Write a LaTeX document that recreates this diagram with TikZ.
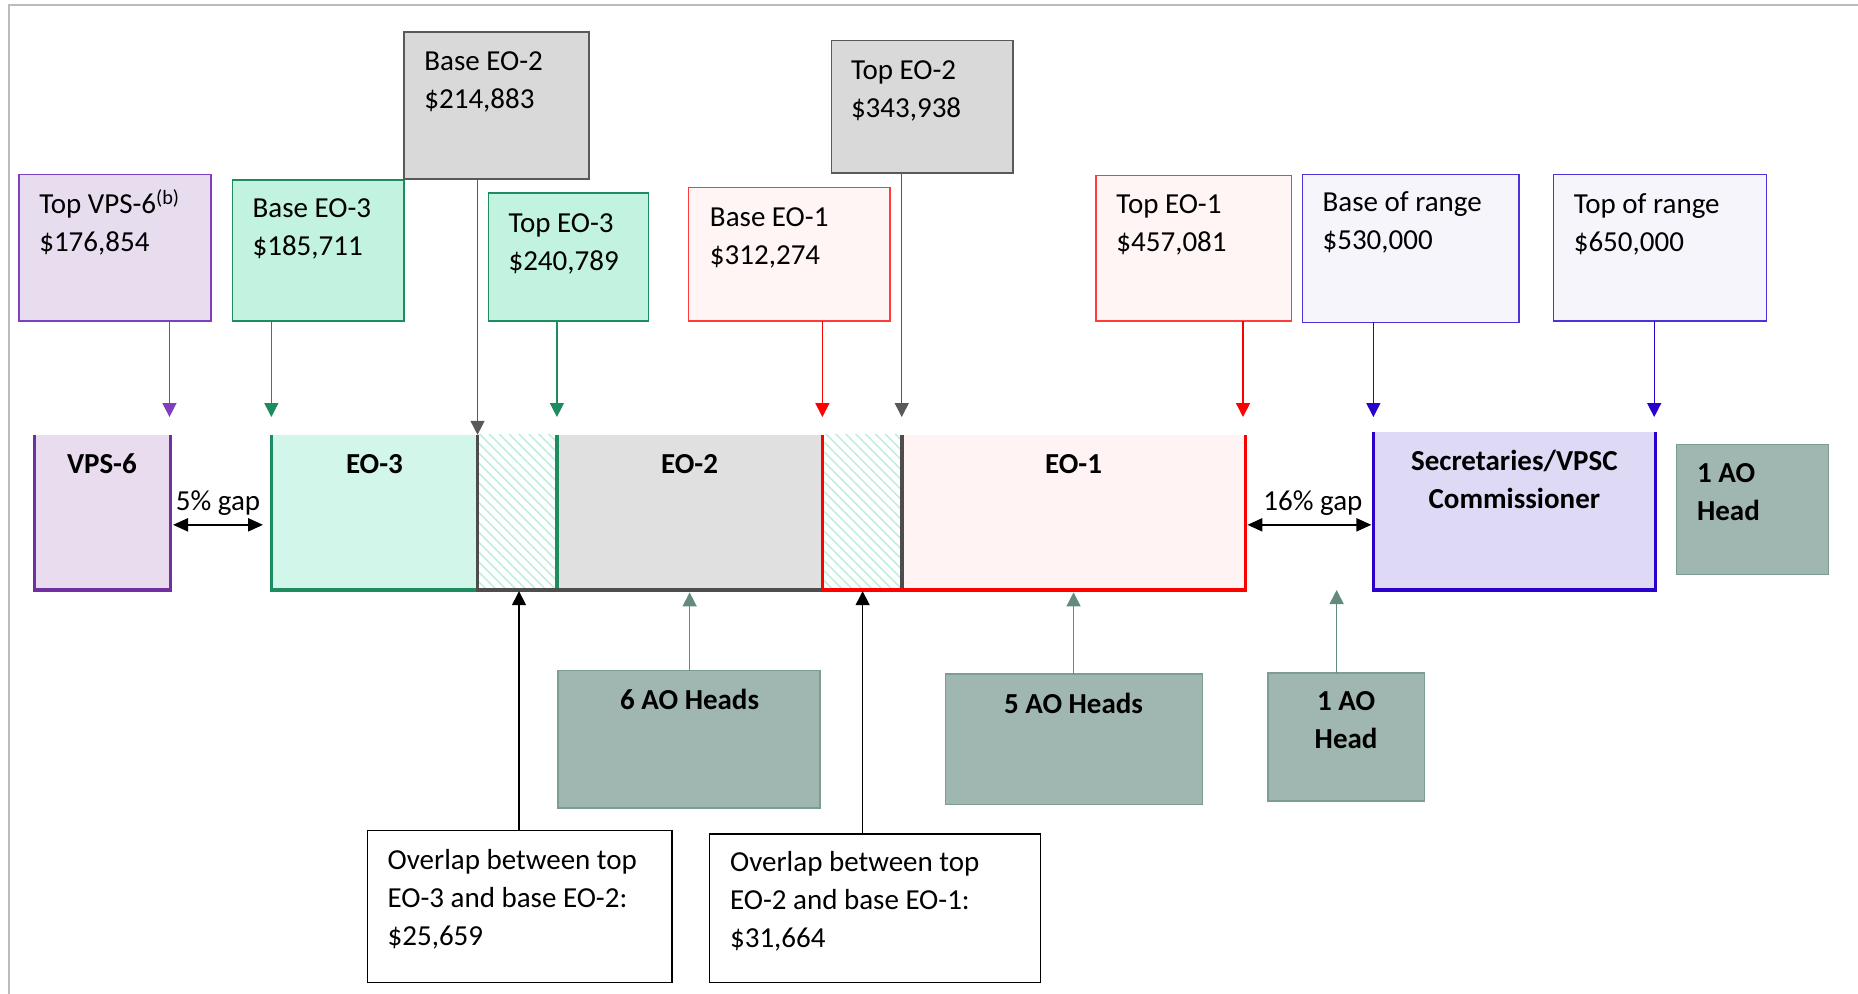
\documentclass[tikz,border=0pt]{standalone}
\usepackage{fontspec}
\setmainfont{Carlito}
\usetikzlibrary{arrows.meta,patterns.meta}

\definecolor{frameline}{HTML}{BBBBBB}
\definecolor{vpsLine}{HTML}{7F3FBF}
\definecolor{vpsFill}{HTML}{E8DCEF}
\definecolor{vpsEdge}{HTML}{7030A0}
\definecolor{vpsBarFill}{HTML}{E9DCEE}
\definecolor{eoThreeLine}{HTML}{1E8C5E}
\definecolor{eoThreeFill}{HTML}{C2F2E0}
\definecolor{eoThreeBarFill}{HTML}{D3F6EA}
\definecolor{eoTwoLine}{HTML}{595959}
\definecolor{eoTwoFill}{HTML}{D9D9D9}
\definecolor{eoTwoBarFill}{HTML}{E0E0E0}
\definecolor{eoTwoEdge}{HTML}{4D4D4D}
\definecolor{eoOneLine}{HTML}{FF3B3B}
\definecolor{eoOneFill}{HTML}{FFF5F5}
\definecolor{eoOneBarFill}{HTML}{FFF4F3}
\definecolor{eoOneEdge}{HTML}{FF0000}
\definecolor{rangeLine}{HTML}{4B33D9}
\definecolor{rangeFill}{HTML}{F6F5FC}
\definecolor{secBarFill}{HTML}{DEDAF6}
\definecolor{secEdge}{HTML}{2A00CC}
\definecolor{aoFill}{HTML}{9FB7B0}
\definecolor{aoLine}{HTML}{7D9C93}
\definecolor{aoArrow}{HTML}{648A80}
\definecolor{hatchLine}{HTML}{BFEEDC}

% a box given by its corners (x1,y1) and (x2,y2)
\newcommand\placebox[6]{%
  \node[#6, minimum width={(#4-#2)*1.18495pt}, minimum height={(#5-#3)*1.18474pt},
        anchor=north west, inner sep=0pt, outer sep=0pt] (#1) at (#2,#3) {};}

% multi-line text is anchored at the baseline of its last line
\tikzset{
  valbox/.style={draw, line width=1.3pt},
  aobox/.style={draw=aoLine, fill=aoFill, line width=1.3pt},
  notebox/.style={draw=black, fill=white, line width=1.3pt},
  hatched/.style={pattern={Lines[angle=-45,distance=7pt,line width=1.6pt]}, pattern color=hatchLine},
  valtext/.style={align=left, anchor=base west, inner sep=0pt},
  bartext/.style={font=\fontsize{29}{38}\selectfont\bfseries, align=center, anchor=base, inner sep=0pt},
  sidetext/.style={font=\fontsize{29}{38}\selectfont\bfseries, align=left, anchor=base west, inner sep=0pt},
  gaptext/.style={anchor=base, inner sep=0pt},
  pointer/.style={line width=1.4pt, -{Triangle[length=14pt,width=14pt]}},
  bandedge/.style={line width=3.6pt, line join=miter},
  gaparrow/.style={line width=2.2pt, {Triangle[length=15pt,width=13pt]}-{Triangle[length=15pt,width=13pt]}},
}

\begin{document}
\begin{tikzpicture}[x=1.18495pt, y=-1.18474pt, font=\fontsize{29}{38}\selectfont]
\useasboundingbox (0,0) rectangle (1568,839);

% outer frame (top and left sides only)
\draw[frameline, line width=1.8pt] (7.3,839) -- (7.3,4.5) -- (1568,4.5);

% ---- value boxes along the top ----
\placebox{vpsTop}{16}{147}{178}{271}{valbox, draw=vpsLine, fill=vpsFill}
\placebox{eoThreeBase}{196}{152}{341}{271}{valbox, draw=eoThreeLine, fill=eoThreeFill}
\placebox{eoTwoBase}{341}{27}{497}{151}{valbox, draw=eoTwoLine, fill=eoTwoFill}
\placebox{eoThreeTop}{412}{163}{547}{271}{valbox, draw=eoThreeLine, fill=eoThreeFill}
\placebox{eoOneBase}{581}{158}{751}{271}{valbox, draw=eoOneLine, fill=eoOneFill}
\placebox{eoTwoTop}{702}{34}{855}{146}{valbox, draw=eoTwoLine, fill=eoTwoFill}
\placebox{eoOneTop}{925}{148}{1090}{271}{valbox, draw=eoOneLine, fill=eoOneFill}
\placebox{rangeBase}{1099}{147}{1282}{272}{valbox, draw=rangeLine, fill=rangeFill}
\placebox{rangeTop}{1311}{147}{1491}{271}{valbox, draw=rangeLine, fill=rangeFill}

\node[valtext] (vpsTopText) at (33,212) {Top VPS-6\textsuperscript{(b)}\\\$176,854};
\node[valtext] (eoThreeBaseText) at (213,216) {Base EO-3\\\$185,711};
\node[valtext] (eoTwoBaseText) at (358,92) {Base EO-2\\\$214,883};
\node[valtext] (eoThreeTopText) at (429,228) {Top EO-3\\\$240,789};
\node[valtext] (eoOneBaseText) at (599,223) {Base EO-1\\\$312,274};
\node[valtext] (eoTwoTopText) at (718,99) {Top EO-2\\\$343,938};
\node[valtext] (eoOneTopText) at (942,212) {Top EO-1\\\$457,081};
\node[valtext] (rangeBaseText) at (1116,211) {Base of range\\\$530,000};
\node[valtext] (rangeTopText) at (1328,212) {Top of range\\\$650,000};

% ---- salary bands ----
\placebox{vpsBand}{29}{367}{144}{498}{fill=vpsBarFill}
\placebox{eoThreeBand}{229}{367}{403}{498}{fill=eoThreeBarFill}
\placebox{overlapOne}{403}{367}{470}{498}{hatched}
\placebox{eoTwoBand}{470}{367}{694}{498}{fill=eoTwoBarFill}
\placebox{overlapTwo}{694}{367}{761}{498}{hatched}
\placebox{eoOneBand}{761}{367}{1051}{498}{fill=eoOneBarFill}
\placebox{secBand}{1159}{365}{1397}{498}{fill=secBarFill}

% band outlines, open at the top
\draw[bandedge, vpsEdge] (vpsBand.north west) -- (vpsBand.south west) -- (vpsBand.south east) -- (vpsBand.north east);
\draw[bandedge, eoThreeLine] (eoThreeBand.north west) -- (eoThreeBand.south west) -- (eoThreeBand.south east);
\draw[bandedge, eoThreeLine] (overlapOne.north east) -- (overlapOne.south east);
\draw[bandedge, eoTwoEdge] (overlapOne.north west) -- (overlapOne.south west) -- (eoTwoBand.south east);
\draw[bandedge, eoTwoEdge] (overlapTwo.north east) -- (overlapTwo.south east);
\draw[bandedge, eoOneEdge] (overlapTwo.north west) -- (overlapTwo.south west) -- (eoOneBand.south east) -- (eoOneBand.north east);
\draw[bandedge, secEdge] (secBand.north west) -- (secBand.south west) -- (secBand.south east) -- (secBand.north east);

\node[bartext] (vpsLabel) at (86,400) {VPS-6};
\node[bartext] (eoThreeLabel) at (316,400) {EO-3};
\node[bartext] (eoTwoLabel) at (582,400) {EO-2};
\node[bartext] (eoOneLabel) at (906,400) {EO-1};
\node[bartext] (secLabel) at (1278,429) {Secretaries/VPSC\\Commissioner};

% ---- head counts ----
\placebox{aoRight}{1415}{375}{1543}{485}{aobox}
\placebox{aoSix}{471}{566}{692}{682}{aobox}
\placebox{aoFive}{798}{569}{1015}{679}{aobox}
\placebox{aoOne}{1070}{568}{1202}{676}{aobox}
\node[sidetext] (aoRightText) at (1432,439) {1 AO\\Head};
\node[bartext] (aoSixText) at (582,599) {6 AO Heads};
\node[bartext] (aoFiveText) at (906,602) {5 AO Heads};
\node[bartext] (aoOneText) at (1136,632) {1 AO\\Head};

% ---- overlap notes ----
\placebox{noteOne}{310}{701}{567}{829}{notebox}
\placebox{noteTwo}{599}{704}{878}{829}{notebox}
\node[valtext] (noteOneText) at (327,798) {Overlap between top\\EO-3 and base EO-2:\\\$25,659};
\node[valtext] (noteTwoText) at (616,800) {Overlap between top\\EO-2 and base EO-1:\\\$31,664};

% ---- gaps between bands ----
\coordinate (gapLevel) at (0,443);
\draw[gaparrow] ([xshift=2.4pt]vpsBand.east |- gapLevel) -- ([xshift=-8.3pt]eoThreeBand.west |- gapLevel);
\draw[gaparrow] ([xshift=2pt]eoOneBand.east |- gapLevel) -- ([xshift=-2pt]secBand.west |- gapLevel);
\node[gaptext] (gapFive) at (184,431) {5\% gap};
\node[gaptext] (gapSixteen) at (1108,431) {16\% gap};

% ---- pointers from value boxes down to the bands ----
\coordinate (tipVps) at (143,352);
\coordinate (tipEoThreeBase) at (229,352);
\coordinate (tipEoTwoBase) at (403,367);
\coordinate (tipEoThreeTop) at (470,352);
\coordinate (tipEoOneBase) at (694,352);
\coordinate (tipEoTwoTop) at (761,352);
\coordinate (tipEoOneTop) at (1049,352);
\coordinate (tipRangeBase) at (1159,352);
\coordinate (tipRangeTop) at (1396,352);
\draw[pointer, vpsLine] (vpsTop.south -| tipVps) -- (tipVps);
\draw[pointer, eoThreeLine] (eoThreeBase.south -| tipEoThreeBase) -- (tipEoThreeBase);
\draw[pointer, eoTwoLine] (eoTwoBase.south -| tipEoTwoBase) -- (tipEoTwoBase);
\draw[pointer, eoThreeLine] (eoThreeTop.south -| tipEoThreeTop) -- (tipEoThreeTop);
\draw[pointer, eoOneEdge] (eoOneBase.south -| tipEoOneBase) -- (tipEoOneBase);
\draw[pointer, eoTwoLine] (eoTwoTop.south -| tipEoTwoTop) -- (tipEoTwoTop);
\draw[pointer, eoOneEdge] (eoOneTop.south -| tipEoOneTop) -- (tipEoOneTop);
\draw[pointer, secEdge] (rangeBase.south -| tipRangeBase) -- (tipRangeBase);
\draw[pointer, secEdge] (rangeTop.south -| tipRangeTop) -- (tipRangeTop);

% ---- pointers from the lower boxes up to the bands ----
\coordinate (tipSix) at (582,500);
\coordinate (tipFive) at (906,500);
\coordinate (tipOne) at (1128,498);
\coordinate (tipNoteOne) at (438,499);
\coordinate (tipNoteTwo) at (728,499);
\draw[pointer, aoArrow] (aoSix.north -| tipSix) -- (tipSix);
\draw[pointer, aoArrow] (aoFive.north -| tipFive) -- (tipFive);
\draw[pointer, aoArrow] (aoOne.north -| tipOne) -- (tipOne);
\draw[pointer, black] (noteOne.north -| tipNoteOne) -- (tipNoteOne);
\draw[pointer, black] (noteTwo.north -| tipNoteTwo) -- (tipNoteTwo);
\end{tikzpicture}
\end{document}
